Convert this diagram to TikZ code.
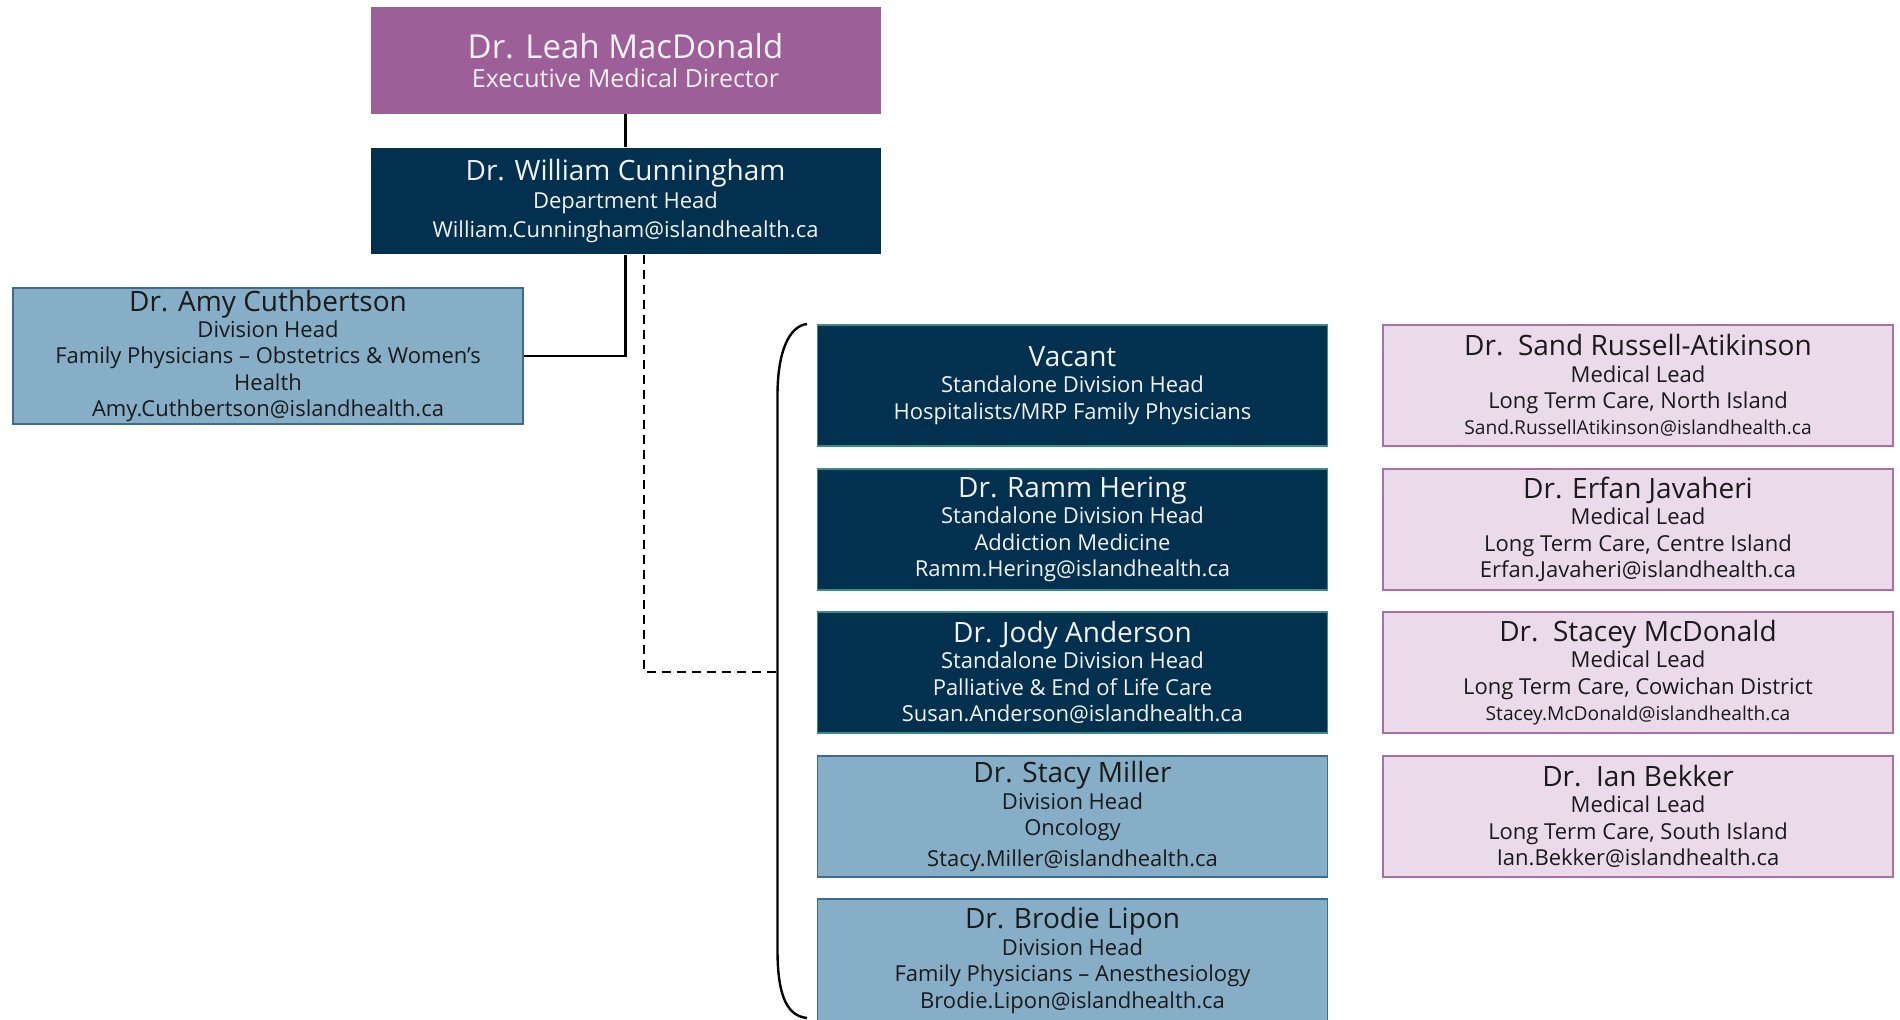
\documentclass[tikz,border=0pt]{standalone}
\usepackage{fontspec}
\setmainfont{Open Sans}
\definecolor{execcol}{HTML}{9C5F98}
\definecolor{navy}{HTML}{02304F}
\definecolor{navyedge}{HTML}{3A8C84}
\definecolor{lblue}{HTML}{86AFC7}
\definecolor{lblueedge}{HTML}{3F6B8F}
\definecolor{pinkfill}{HTML}{EBDAEA}
\definecolor{pinkedge}{HTML}{A870A5}
\definecolor{lighttext}{HTML}{F2F2F2}
\definecolor{darktext}{HTML}{1A1A1A}
\newcommand\nmf{\fontsize{14}{17}\selectfont}
\newcommand\smf{\fontsize{9.6}{12}\selectfont}
\tikzset{
  orgbox/.style={rectangle, minimum width=255pt, minimum height=60.5pt, inner sep=0pt, align=center, font=\fontsize{11}{13.2}\selectfont},
  execbox/.style={orgbox, fill=execcol, text=lighttext, minimum height=53.5pt},
  navybox/.style={orgbox, fill=navy, draw=navyedge, line width=0.6pt, text=lighttext},
  bluebox/.style={orgbox, fill=lblue, draw=lblueedge, line width=0.6pt, text=darktext},
  pinkbox/.style={orgbox, fill=pinkfill, draw=pinkedge, line width=0.6pt, text=darktext},
  link/.style={draw=black, line width=1.2pt},
  dlink/.style={draw=black, line width=1.3pt, dash pattern=on 4.5pt off 3pt},
}
\begin{document}
\begin{tikzpicture}[x=0.5pt,y=-0.5pt]
\useasboundingbox (0,0) rectangle (1900,1020);
% top
\node[execbox] (leah) at (625.5,60.5) {{\fontsize{16.5}{20}\selectfont Dr. Leah MacDonald}\\[1.5pt]{\fontsize{12.5}{15}\selectfont Executive Medical Director}};
\node[navybox, draw=none, minimum height=53pt] (cun) at (625.5,201) {{\nmf Dr. William Cunningham}\\[1pt]Department Head\\[1pt]William.Cunningham@islandhealth.ca};
\node[bluebox, minimum height=68pt] (amy) at (268,356) {{\nmf Dr. Amy Cuthbertson}\\Division Head\\Family Physicians – Obstetrics \& Women’s\\Health\\Amy.Cuthbertson@islandhealth.ca};
% middle column
\node[navybox] (vac) at (1072.5,385.5) {{\nmf Vacant}\\Standalone Division Head\\Hospitalists/MRP Family Physicians};
\node[navybox] (ramm) at (1072.5,529.5) {{\nmf Dr. Ramm Hering}\\Standalone Division Head\\Addiction Medicine\\Ramm.Hering@islandhealth.ca};
\node[navybox] (jody) at (1072.5,672.5) {{\nmf Dr. Jody Anderson}\\Standalone Division Head\\Palliative \& End of Life Care\\Susan.Anderson@islandhealth.ca};
\node[bluebox] (stacy) at (1072.5,816.5) {{\nmf Dr. Stacy Miller}\\Division Head\\Oncology\\[2pt]Stacy.Miller@islandhealth.ca};
\node[bluebox, minimum height=62.5pt] (brodie) at (1072.5,961.5) {};
\node[align=center, font=\fontsize{11}{13.2}\selectfont, text=darktext, inner sep=0pt] (brodietxt) at (1072.5,960.5) {{\nmf Dr. Brodie Lipon}\\Division Head\\Family Physicians – Anesthesiology\\Brodie.Lipon@islandhealth.ca};
% right column
\node[pinkbox] (sand) at (1638,385.5) {{\nmf Dr.\ \ Sand Russell-Atikinson}\\Medical Lead\\Long Term Care, North Island\\{\smf Sand.RussellAtikinson@islandhealth.ca}};
\node[pinkbox] (erfan) at (1638,529.5) {{\nmf Dr. Erfan Javaheri}\\Medical Lead\\Long Term Care, Centre Island\\Erfan.Javaheri@islandhealth.ca};
\node[pinkbox] (stacey) at (1638,672.5) {{\nmf Dr.\ \ Stacey McDonald}\\Medical Lead\\Long Term Care, Cowichan District\\{\smf Stacey.McDonald@islandhealth.ca}};
\node[pinkbox] (ian) at (1638,816.5) {{\nmf Dr.\ \ Ian Bekker}\\Medical Lead\\Long Term Care, South Island\\Ian.Bekker@islandhealth.ca};
% connectors
\draw[link] (leah.south) -- (cun.north);
\draw[link] (cun.south) |- (amy.east);
\coordinate (brmid) at (777.5,672);
\coordinate (brtop) at (807,324);
\coordinate (brbot) at (807,1018);
\draw[dlink] ([xshift=9.25pt]cun.south) |- (brmid);
\draw[link] (brtop) .. controls (789,326) and (777.5,352) .. (777.5,395) -- (777.5,950) .. controls (777.5,1000) and (789,1016) .. (brbot);
\end{tikzpicture}
\end{document}
